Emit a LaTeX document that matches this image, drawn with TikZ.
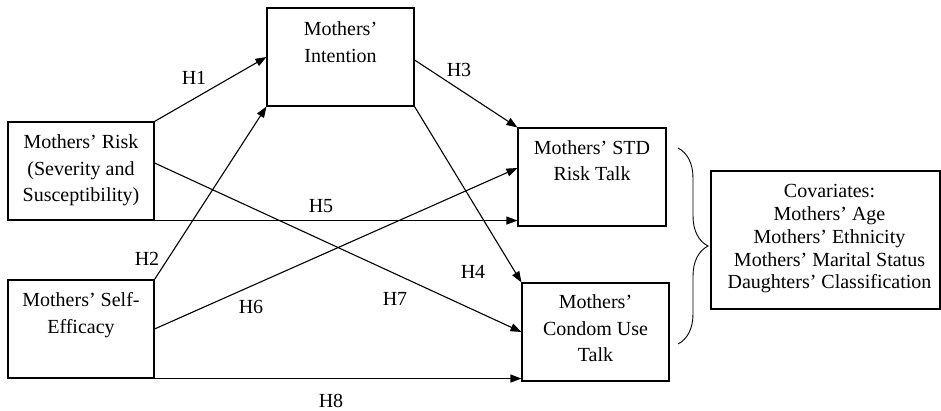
\documentclass[tikz,border=0pt]{standalone}
\usepackage{fontspec}
\setmainfont{Liberation Serif}
\usetikzlibrary{arrows.meta,decorations.pathreplacing,calc}
\begin{document}
\begin{tikzpicture}[x=1pt,y=-1pt,
  box/.style={draw,line width=1.1pt,inner sep=0pt,rectangle},
  txt/.style={font=\fontsize{20}{26.7}\selectfont,align=center,inner sep=0pt,anchor=north},
  ctxt/.style={font=\fontsize{20}{22.8}\selectfont,align=center,inner sep=0pt,anchor=north},
  lab/.style={font=\fontsize{20}{24}\selectfont,inner sep=0pt},
  arr/.style={line width=1.1pt,-{Triangle[length=11pt,width=8pt]}},
  plain/.style={line width=1.1pt}]
\useasboundingbox (0,0) rectangle (941,411);
% boxes
\node[box,minimum width=147pt,minimum height=98pt] (int) at (340.5,57) {};
\node[box,minimum width=146pt,minimum height=98pt] (risk) at (81,171) {};
\node[box,minimum width=146pt,minimum height=98pt] (se) at (81,329) {};
\node[box,minimum width=148pt,minimum height=98pt] (std) at (592,177) {};
\node[box,minimum width=147pt,minimum height=98pt] (cond) at (595.5,332) {};
\node[box,minimum width=229pt,minimum height=138pt] (cov) at (825.5,240) {};
% texts
\node[txt] (tint) at (340.5,21.5) {Mothers’\\Intention};
\node[txt] (trisk) at (81,134.5) {Mothers’ Risk\\(Severity and\\Susceptibility)};
\node[txt] (tse) at (81,292.5) {Mothers’ Self-\\Efficacy};
\node[txt] (tstd) at (592,140) {Mothers’ STD\\Risk Talk};
\node[txt] (tcond) at (595.5,294.5) {Mothers’\\Condom Use\\Talk};
\node[ctxt] (tcov) at (829.5,184.2) {Covariates:\\Mothers’ Age\\Mothers’ Ethnicity\\Mothers’ Marital Status\\Daughters’ Classification};
% connectors
\draw[arr] (risk.north east) -- (int.west);
\draw[arr] (se.north east) -- (int.south west);
\draw[arr] ([yshift=-3pt]int.east) -- (std.north west);
\draw[arr] (int.south east) -- (cond.north west);
\draw[arr] (risk.south east) -- (risk.south east -| std.west);
\draw[arr] (se.east) -- ([yshift=9pt]std.west);
\draw[arr] ([yshift=8pt]risk.east) -- (cond.west);
\draw[arr] (se.south east) -- (se.south east -| cond.west);
% brace
\coordinate (bt) at (678,148);
\coordinate (bb) at (678,344);
\draw[line width=0.9pt,decorate,decoration={brace,amplitude=30pt}] (bt) -- (bb);
% labels
\node[lab] (h1) at (194,78) {H1};
\node[lab] (h2) at (147,259) {H2};
\node[lab] (h3) at (459,70) {H3};
\node[lab] (h4) at (473,272) {H4};
\node[lab] (h5) at (321,206) {H5};
\node[lab] (h6) at (251,307) {H6};
\node[lab] (h7) at (395,299) {H7};
\node[lab] (h8) at (331,401) {H8};
\end{tikzpicture}
\end{document}
